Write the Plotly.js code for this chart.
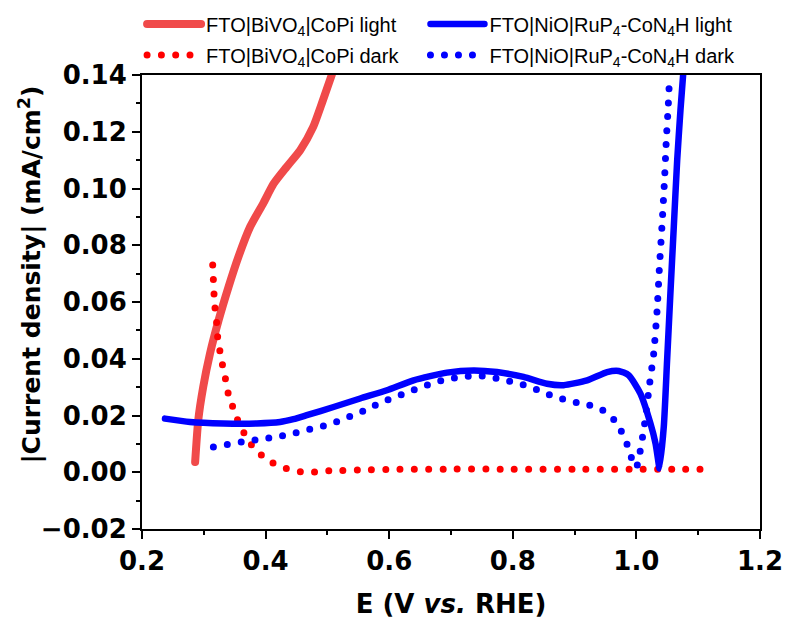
<!DOCTYPE html>
<html>
<head>
<meta charset="utf-8">
<script src="https://cdn.plot.ly/plotly-3.0.1.min.js"></script>
<style>
  html, body { margin: 0; padding: 0; background: #fff; }
  #chart { width: 785px; height: 628px; }
  .js-line { stroke-linecap: round; }
</style>
</head>
<body>
<div id="chart"></div>
<script>
// ---- Data ----
// FTO|BiVO4|CoPi light
const bivoLightE = [0.286, 0.291, 0.299, 0.310, 0.324, 0.340, 0.356, 0.375, 0.396, 0.413, 0.434, 0.456, 0.477, 0.491, 0.507];
const bivoLightJ = [0.0036, 0.0183, 0.0300, 0.0418, 0.0536, 0.0653, 0.0759, 0.0865, 0.0947, 0.1017, 0.1076, 0.1135, 0.1217, 0.1300, 0.1400];

// FTO|BiVO4|CoPi dark
const bivoDarkE = [0.3144, 0.3155, 0.3166, 0.3182, 0.3209, 0.3225, 0.3263, 0.3306, 0.3355, 0.3398, 0.3479, 0.3549, 0.3657, 0.3776, 0.3954, 0.4154, 0.4343, 0.4586, 0.4802, 0.5034, 0.550, 0.600, 0.700, 0.800, 0.900, 1.000, 1.050, 1.112];
const bivoDarkJ = [0.0730, 0.0677, 0.0626, 0.0577, 0.0524, 0.0475, 0.0424, 0.0374, 0.0324, 0.0275, 0.0224, 0.0183, 0.0136, 0.0095, 0.0056, 0.0028, 0.0013, 0.0001, 0.0001, 0.0005, 0.0008, 0.0010, 0.0011, 0.0011, 0.0011, 0.0011, 0.0011, 0.0011];

// FTO|NiO|RuP4-CoN4H light
const nioLightE = [0.2372, 0.2777, 0.3317, 0.3857, 0.4235, 0.445, 0.4667, 0.510, 0.553, 0.5963, 0.6394, 0.6934, 0.7366, 0.7744, 0.8175, 0.8554, 0.8823, 0.9202, 0.9526, 0.9714, 0.9875, 1.0065, 1.0227, 1.031, 1.036, 1.0373, 1.0443, 1.0497, 1.055, 1.0605, 1.066, 1.0713, 1.0756];
const nioLightJ = [0.0189, 0.0177, 0.0172, 0.0172, 0.0177, 0.0187, 0.0201, 0.0230, 0.0260, 0.0289, 0.0324, 0.0351, 0.0359, 0.0353, 0.0336, 0.0312, 0.0307, 0.0324, 0.0353, 0.0357, 0.0342, 0.0277, 0.0172, 0.0101, 0.0030, 0.0013, 0.0160, 0.0395, 0.0630, 0.0865, 0.1100, 0.1276, 0.1400];

// FTO|NiO|RuP4-CoN4H dark
const nioDarkE = [0.3155, 0.3388, 0.3625, 0.3857, 0.4084, 0.4316, 0.4543, 0.4764, 0.499, 0.5206, 0.5433, 0.5655, 0.588, 0.607, 0.6287, 0.650, 0.6717, 0.6934, 0.7177, 0.742, 0.7636, 0.7879, 0.8094, 0.8327, 0.8538, 0.8769, 0.8985, 0.9228, 0.9445, 0.9633, 0.9757, 0.985, 0.9919, 1.000, 1.0054, 1.013, 1.0216, 1.028, 1.0335, 1.0373, 1.0416, 1.0454, 1.0486, 1.0513, 1.0535];
const nioDarkJ = [0.0089, 0.0098, 0.0107, 0.0115, 0.0122, 0.0130, 0.0142, 0.0154, 0.0166, 0.0183, 0.0203, 0.0222, 0.0248, 0.0262, 0.0281, 0.0298, 0.0315, 0.0328, 0.0336, 0.0340, 0.0336, 0.0324, 0.0313, 0.0297, 0.0277, 0.0260, 0.0248, 0.0237, 0.0220, 0.0186, 0.0144, 0.0098, 0.0052, 0.0017, 0.0066, 0.0166, 0.0315, 0.0418, 0.0571, 0.0724, 0.0876, 0.1027, 0.1180, 0.1282, 0.1384];

const seriesNames = [
  'FTO|BiVO<sub>4</sub>|CoPi light',
  'FTO|NiO|RuP<sub>4</sub>-CoN<sub>4</sub>H light',
  'FTO|BiVO<sub>4</sub>|CoPi dark',
  'FTO|NiO|RuP<sub>4</sub>-CoN<sub>4</sub>H dark'
];
const xTitle = 'E (V <i>vs.</i> RHE)';
const yTitle = '|Current density| (mA/cm<sup>2</sup>)';

// ---- Traces ----
const traces = [
  { x: bivoLightE, y: bivoLightJ, name: seriesNames[0], legend: 'legend', legendgroup: 'a', mode: 'lines',
    line: { color: '#F04A4A', width: 8, shape: 'spline', smoothing: 0.6 } },
  { x: bivoDarkE, y: bivoDarkJ, name: seriesNames[2], legend: 'legend', legendgroup: 'b', mode: 'lines',
    line: { color: '#FF0000', width: 7, dash: '0px,14.3px', shape: 'spline', smoothing: 0.5 } },
  { x: nioLightE, y: nioLightJ, name: seriesNames[1], legend: 'legend2', legendgroup: 'c', mode: 'lines',
    line: { color: '#0000FF', width: 6.5, shape: 'spline', smoothing: 0.6 } },
  { x: nioDarkE, y: nioDarkJ, name: seriesNames[3], legend: 'legend2', legendgroup: 'd', mode: 'lines',
    line: { color: '#0000FF', width: 7, dash: '0px,14px', shape: 'spline', smoothing: 0.5 } }
];

const axisFont = { family: 'DejaVu Sans', size: 26, color: '#000', weight: 'bold' };
const legendFont = { family: 'Liberation Sans', size: 20, color: '#000' };

const legendBase = {
  orientation: 'v', xref: 'container', yref: 'container',
  y: 0.993, xanchor: 'left', yanchor: 'top',
  font: legendFont, bgcolor: 'rgba(0,0,0,0)', itemwidth: 54,
  tracegroupgap: 2, traceorder: 'grouped'
};

const layout = {
  width: 785, height: 628,
  margin: { l: 142, r: 25, t: 75, b: 99, pad: 0, autoexpand: false },
  paper_bgcolor: '#fff', plot_bgcolor: '#fff',
  showlegend: true,
  legend: Object.assign({}, legendBase, { x: 0.181 }),
  legend2: Object.assign({}, legendBase, { x: 0.542 }),
  xaxis: {
    range: [0.2, 1.2], tick0: 0.2, dtick: 0.2, tickformat: '.1f',
    ticks: 'outside', ticklen: 8, tickwidth: 2, tickcolor: '#000',
    showline: true, linewidth: 2, linecolor: '#000', mirror: true,
    showgrid: false, zeroline: false,
    minor: { dtick: 0.1, ticks: 'outside', ticklen: 4, tickwidth: 2, tickcolor: '#000', showgrid: false },
    tickfont: axisFont,
    title: { text: xTitle, font: axisFont, standoff: 20 }
  },
  yaxis: {
    range: [-0.02, 0.14], tick0: 0, dtick: 0.02, tickformat: '.2f',
    ticks: 'outside', ticklen: 8, tickwidth: 2, tickcolor: '#000',
    showline: true, linewidth: 2, linecolor: '#000', mirror: true,
    showgrid: false, zeroline: false,
    minor: { dtick: 0.01, ticks: 'outside', ticklen: 4, tickwidth: 2, tickcolor: '#000', showgrid: false },
    tickfont: axisFont
  },
  annotations: [{
    text: yTitle, textangle: -90, showarrow: false,
    xref: 'paper', yref: 'paper', x: -0.18, y: 0.56, xanchor: 'center', yanchor: 'middle',
    font: { family: 'DejaVu Sans', size: 25, color: '#000', weight: 'bold' }
  }]
};

Plotly.newPlot('chart', traces, layout, { staticPlot: true, displayModeBar: false });
</script>
</body>
</html>
